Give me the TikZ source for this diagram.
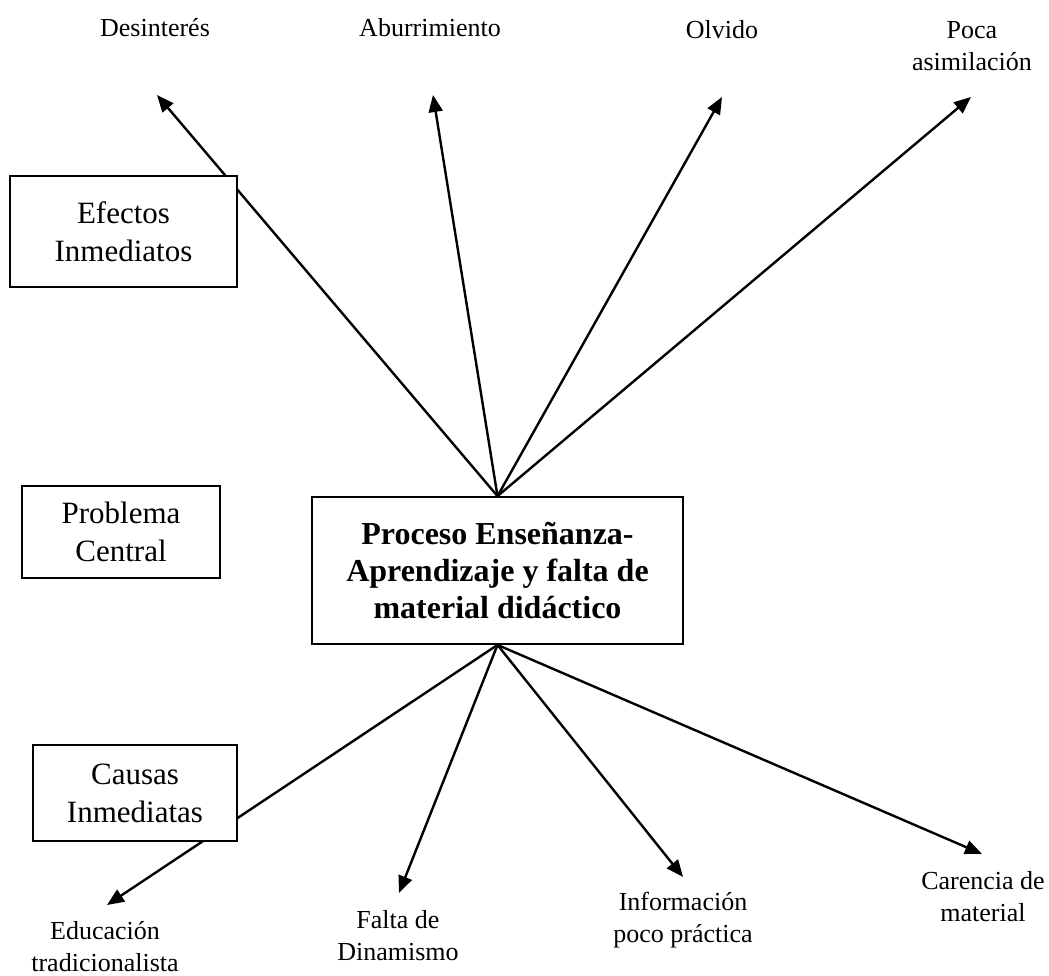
\documentclass[tikz,border=0pt]{standalone}
\usepackage{fontspec}
\setmainfont{Liberation Serif}
\usetikzlibrary{arrows.meta}
\begin{document}
\begin{tikzpicture}[x=1pt,y=-1pt,
  lbl/.style={align=center,inner sep=0pt,font=\fontsize{26}{32}\selectfont},
  sidebox/.style={draw,line width=1.8pt,fill=white,align=center,inner sep=0pt,font=\fontsize{31}{38}\selectfont},
  mainbox/.style={draw,line width=1.8pt,fill=white,align=center,inner sep=0pt,minimum width=371pt,minimum height=147pt,font=\bfseries\fontsize{32}{37}\selectfont},
  arr/.style={line width=2.4pt,-{Triangle[length=17pt,width=14pt]}}]
\useasboundingbox (0,0) rectangle (1049,976);

% central problem
\node[mainbox] (c) at (497.5,570.5) {Proceso Enseñanza-\\Aprendizaje y falta de\\material didáctico};

% effect labels
\node[lbl] (e1) at (155,28) {Desinterés};
\node[lbl] (e2) at (430,28) {Aburrimiento};
\node[lbl] (e3) at (722,30) {Olvido};
\node[lbl] (e4) at (972,46) {Poca\\asimilación};

% cause labels
\node[lbl] (k1) at (105,947) {Educación\\tradicionalista};
\node[lbl] (k2) at (398,936) {Falta de\\Dinamismo};
\node[lbl] (k3) at (683,920) {Información\\poco práctica};
\node[lbl] (k4) at (983,897) {Carencia de\\material};

% arrow tips
\coordinate (te1) at (157,95);
\coordinate (te2) at (433,95);
\coordinate (te3) at (722,97);
\coordinate (te4) at (971,97);
\coordinate (tk1) at (107,905);
\coordinate (tk2) at (399,893);
\coordinate (tk3) at (683,877);
\coordinate (tk4) at (982,854);

\draw[arr] (c.north) -- (te1);
\draw[arr] (c.north) -- (te2);
\draw[arr] (c.north) -- (te3);
\draw[arr] (c.north) -- (te4);
\draw[arr] (c.south) -- (tk1);
\draw[arr] (c.south) -- (tk2);
\draw[arr] (c.south) -- (tk3);
\draw[arr] (c.south) -- (tk4);

% side boxes (drawn over the lines)
\node[sidebox,minimum width=227pt,minimum height=111pt] (ef) at (123.5,231.5) {Efectos\\Inmediatos};
\node[sidebox,minimum width=198pt,minimum height=92pt] (pc) at (121,532) {Problema\\Central};
\node[sidebox,minimum width=204pt,minimum height=96pt] (ca) at (135,793) {Causas\\Inmediatas};
\end{tikzpicture}
\end{document}
